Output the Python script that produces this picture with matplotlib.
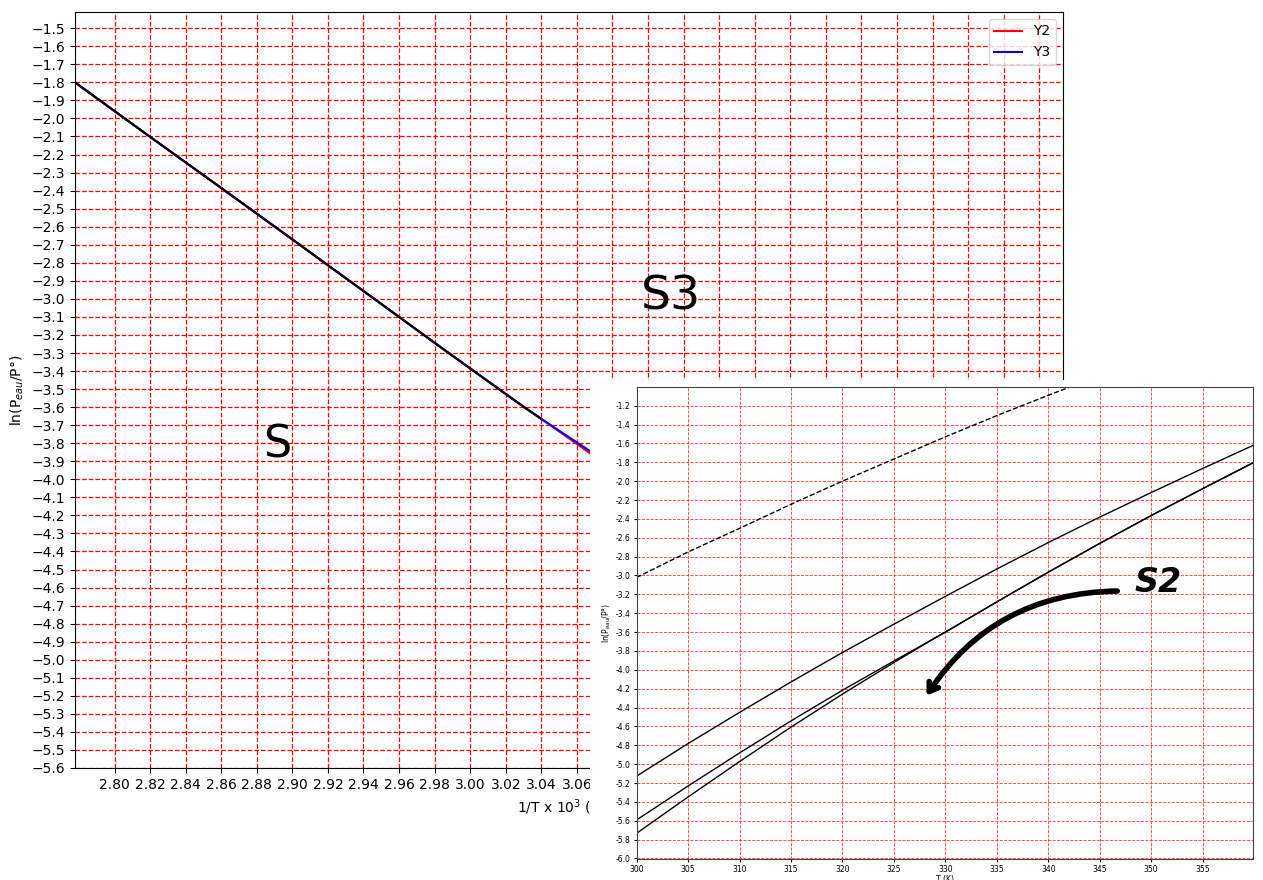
import numpy as np
import matplotlib
matplotlib.use("Agg")
import matplotlib.pyplot as plt
from matplotlib.patches import Rectangle, FancyArrowPatch

# vapour pressure of water, ln(P_eau/P°), read along temperature (K)
T = np.array([300, 305, 310, 315, 320, 325, 329, 330, 335, 340, 345, 350, 355, 360])
Y2 = np.array([-5.732, -5.347, -4.972, -4.607, -4.257, -3.922, -3.662,
               -3.600, -3.280, -2.965, -2.660, -2.365, -2.080, -1.800])
Y3 = np.array([-5.591, -5.231, -4.881, -4.541, -4.216, -3.906, -3.662,
               -3.600, -3.280, -2.965, -2.660, -2.365, -2.080, -1.800])
# common branch (both models agree above ~329 K)
T_common = T[T >= 329]
Y_common = Y2[T >= 329]

# second model, plotted against T only
Y_upper = np.array([-5.126, -4.781, -4.451, -4.128, -3.816, -3.516, -3.280,
                    -3.221, -2.931, -2.651, -2.381, -2.121, -1.866, -1.616])
T_dash = np.array([300, 305, 310, 315, 320, 325, 330, 335, 340, 345])
Y_dash = np.array([-3.02, -2.75, -2.50, -2.245, -2.00, -1.765, -1.53, -1.305, -1.09, -0.88])

W, H = 1263, 880
fig = plt.figure(figsize=(W / 100, H / 100), dpi=100)

# ---- main axes : ln P vs 1000/T ----
ax = fig.add_axes([75 / W, 1 - 768 / H, 988 / W, 756 / H], zorder=1)
ax.plot(1000 / T, Y2, color="red", lw=1.5, label="Y2")
ax.plot(1000 / T, Y3, color="blue", lw=1.5, label="Y3")
ax.plot(1000 / T_common, Y_common, color="black", lw=1.5)
ax.set_xlim(1000 / 360, 1000 / 300)
ax.set_ylim(-5.6, -1.41)
ax.set_xticks(np.arange(2.80, 3.34, 0.02))
ax.set_yticks(np.arange(-5.6, -1.45, 0.1))
ax.grid(True, color="red", linestyle="--", linewidth=0.9)
ax.set_xlabel(r"1/T x 10$^3$ (K$^{-1}$)")
ax.set_ylabel(r"ln(P$_{eau}$/P°)")
ax.legend(loc="upper right")

# ---- second figure pasted on top : ln P vs T ----
fig.add_artist(Rectangle((590 / W, 0), 673 / W, 500 / H, transform=fig.transFigure,
                         facecolor="white", edgecolor="none", zorder=2))
ax2 = fig.add_axes([636.7 / W, 1 - 858.5 / H, (1253 - 636.7) / W, (858.5 - 387.3) / H],
                   zorder=3)
ax2.plot(T, Y_upper, color="black", lw=1.0)
ax2.plot(T, Y2, color="black", lw=1.0)
ax2.plot(T, Y3, color="black", lw=1.0)
ax2.plot(T_dash, Y_dash, color="black", lw=1.0, linestyle="--")
ax2.set_xlim(300, 359.9)
ax2.set_ylim(-6.0, -1.005)
ax2.set_xticks(np.arange(300, 360, 5))
ax2.set_yticks(np.arange(-6.0, -1.1, 0.2))
ax2.yaxis.set_major_formatter(matplotlib.ticker.FormatStrFormatter("%.1f"))
ax2.tick_params(labelsize=5.5, length=2.5, pad=2)
ax2.grid(True, color="#ff3333", linestyle="--", linewidth=0.6)
for s in ax2.spines.values():
    s.set_color("#444444")
    s.set_linewidth(0.8)
ax2.set_xlabel("T (K)", fontsize=5.5, labelpad=1)
ax2.set_ylabel(r"ln(P$_{eau}$/P°)", fontsize=5.5, labelpad=2)

# ---- hand-written marks ----
hand = dict(color="black", family="DejaVu Sans", zorder=5, ha="center", va="center")
fig.text(277 / W, 1 - 445 / H, "S", fontsize=32, **hand)
fig.text(671 / W, 1 - 297 / H, "S3", fontsize=34, **hand)
fig.text(1158 / W, 1 - 582 / H, "S2", fontsize=24, style="italic",
         fontweight="bold", **hand)
arrow = FancyArrowPatch((1120 / W, 1 - 591 / H), (925 / W, 1 - 698 / H),
                        transform=fig.transFigure, connectionstyle="arc3,rad=0.27",
                        arrowstyle="->,head_length=6,head_width=4", lw=4,
                        color="black", zorder=5)
fig.add_artist(arrow)

fig.savefig("out.png", dpi=100)
